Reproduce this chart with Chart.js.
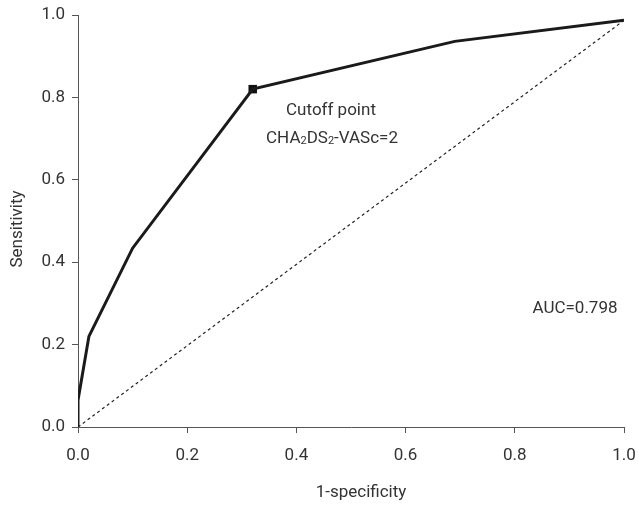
<!DOCTYPE html>
<html>
<head>
<meta charset="utf-8">
<script src="https://cdn.jsdelivr.net/npm/chart.js@4/dist/chart.umd.min.js"></script>
<style>
  html, body { margin: 0; padding: 0; background: #fff; }
  #wrap { width: 638px; height: 505px; }
</style>
</head>
<body>
<div id="wrap"><canvas id="roc" width="638" height="505"></canvas></div>
<script>
// ROC curve
const fpr = [0, 0, 0.02, 0.1, 0.32, 0.69, 1.0];
const tpr = [0, 0.065, 0.22, 0.434, 0.82, 0.936, 0.987];
const diagX = [0, 1.0];
const diagY = [0, 0.987];
const cutoffX = [0.32];
const cutoffY = [0.82];
const tickValues = [0, 0.2, 0.4, 0.6, 0.8, 1.0];

const FONT = 'Roboto, "Liberation Sans", sans-serif';
const TEXT = '#333';

const toPts = (xs, ys) => xs.map((x, i) => ({ x, y: ys[i] }));

// annotation texts and axis titles
const notes = {
  id: 'notes',
  afterDraw(chart) {
    const { ctx } = chart;
    ctx.save();
    ctx.fillStyle = TEXT;
    ctx.textBaseline = 'alphabetic';
    ctx.font = '17px ' + FONT;
    ctx.textAlign = 'center';
    ctx.fillText('Cutoff point', 331, 115);

    // CHA2DS2-VASc=2 with subscripts
    const parts = [['CHA', 0], ['2', 1], ['DS', 0], ['2', 1], ['-VASc=2', 0]];
    const measure = (p) => {
      ctx.font = (p[1] ? '11px ' : '17px ') + FONT;
      return ctx.measureText(p[0]).width;
    };
    const total = parts.reduce((s, p) => s + measure(p), 0);
    let px = 332 - total / 2;
    const py = 143;
    ctx.textAlign = 'left';
    parts.forEach((p) => {
      const w = measure(p);
      ctx.font = (p[1] ? '11px ' : '17px ') + FONT;
      ctx.fillText(p[0], px, p[1] ? py + 1 : py);
      px += w;
    });

    ctx.font = '17px ' + FONT;
    ctx.textAlign = 'center';
    ctx.fillText('AUC=0.798', 575, 313);

    // axis titles
    ctx.fillText('1-specificity', 361, 497);
    ctx.translate(22, 229);
    ctx.rotate(-Math.PI / 2);
    ctx.fillText('Sensitivity', 0, 0);
    ctx.restore();
  },
};

new Chart(document.getElementById('roc'), {
  type: 'scatter',
  data: {
    datasets: [
      {
        label: 'Reference',
        data: toPts(diagX, diagY),
        showLine: true,
        borderColor: '#222',
        borderWidth: 1.2,
        borderDash: [3, 3],
        pointRadius: 0,
      },
      {
        label: 'ROC',
        data: toPts(fpr, tpr),
        showLine: true,
        borderColor: '#1a1a1a',
        borderWidth: 3,
        pointRadius: 0,
      },
      {
        label: 'Cutoff',
        data: toPts(cutoffX, cutoffY),
        pointStyle: 'rect',
        pointRadius: 6,
        backgroundColor: '#111',
        borderColor: '#111',
        borderWidth: 0,
      },
    ],
  },
  options: {
    responsive: false,
    animation: false,
    layout: { padding: { top: 15, right: 14, left: 0, bottom: 0 } },
    plugins: { legend: { display: false }, tooltip: { enabled: false } },
    scales: {
      x: {
        type: 'linear',
        min: 0,
        max: 1,
        afterBuildTicks: (s) => { s.ticks = tickValues.map((v) => ({ value: v })); },
        afterFit: (s) => {
          s.height = 78;
          s.paddingLeft = 0;
          s.paddingRight = 0;
        },
        grid: { drawOnChartArea: false, drawTicks: true, tickLength: 6, color: '#555' },
        border: { color: '#555', width: 1 },
        ticks: {
          color: TEXT,
          font: { family: FONT, size: 17 },
          padding: 13,
          maxRotation: 0,
          callback: (v) => Number(v).toFixed(1),
        },
      },
      y: {
        type: 'linear',
        min: 0,
        max: 1,
        afterBuildTicks: (s) => { s.ticks = tickValues.map((v) => ({ value: v })); },
        afterFit: (s) => {
          s.width = 78;
          s.paddingTop = 0;
          s.paddingBottom = 0;
        },
        grid: { drawOnChartArea: false, drawTicks: true, tickLength: 6, color: '#555' },
        border: { color: '#555', width: 1 },
        ticks: {
          color: TEXT,
          font: { family: FONT, size: 17 },
          padding: 7,
          callback: (v) => Number(v).toFixed(1),
        },
      },
    },
  },
  plugins: [notes],
});
</script>
</body>
</html>
